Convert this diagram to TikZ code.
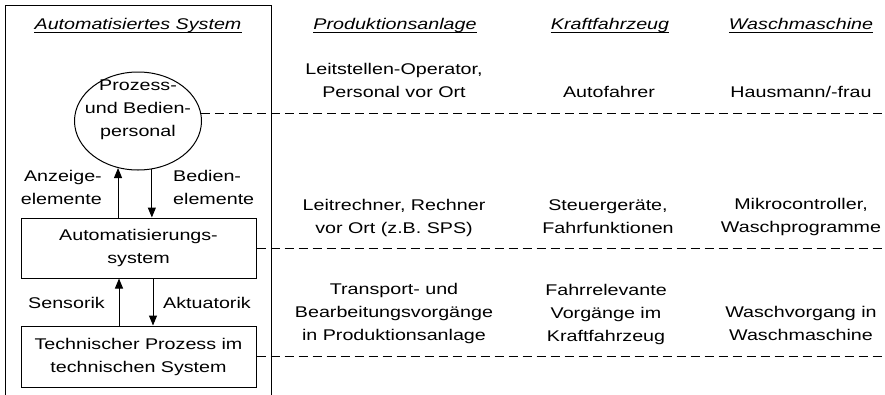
\documentclass[tikz,border=0pt]{standalone}
\usepackage{fontspec}
\setmainfont{Liberation Sans}[FakeStretch=1.27]
\usetikzlibrary{arrows.meta,shapes.geometric}

\begin{document}
\begin{tikzpicture}[x=1pt,y=-1pt,
  txt/.style={inner sep=0pt, font=\fontsize{15.5}{23}\selectfont, align=center},
  hdr/.style={txt, font=\fontsize{15.5}{23}\selectfont\itshape},
  box/.style={draw, line width=1pt, minimum width=235pt, minimum height=60pt,
    inner sep=0pt, align=center, font=\fontsize{15.5}{23}\selectfont},
  link/.style={line width=0.9pt, dash pattern=on 9pt off 5pt},
  arr/.style={line width=1pt, -{Triangle[length=10pt,width=8pt]}}
]
\useasboundingbox (0,0) rectangle (885,394);
\fill[white] (0,0) rectangle (885,394);

% frame of the automated system (open towards the bottom)
\draw[line width=1pt] (5,400) -- (5,5) -- (271,5) -- (271,400);

% column headings
\node[hdr, anchor=base] (hsys)  at (138,29) {Automatisiertes System};
\node[hdr, anchor=base] (hprod) at (395,29) {Produktionsanlage};
\node[hdr, anchor=base] (hkfz)  at (610,29) {Kraftfahrzeug};
\node[hdr, anchor=base] (hwm)   at (801,29) {Waschmaschine};
\foreach \h in {hsys,hprod,hkfz,hwm}
  \draw[line width=1pt] ([yshift=-3.5pt]\h.base west) -- ([yshift=-3.5pt]\h.base east);

% left part: personnel, automation system, technical process
\node[draw, ellipse, line width=1pt, minimum width=127pt, minimum height=98pt, inner sep=0pt] (pers) at (138,121) {};
\node[txt, anchor=base] (perstext) at (138,136) {Prozess-\\und Bedien-\\personal};
\node[box] (auto) at (138.5,248) {Automatisierungs-\\system};
\node[box, minimum height=61pt] (tech) at (138.5,356.5) {Technischer Prozess im\\technischen System};

\draw[arr] (auto.north -| pers.247.3) -- (pers.247.3);
\draw[arr] (pers.286.9) -- (pers.286.9 |- auto.north);
\draw[arr] ([xshift=-19.5pt]tech.north) -- ([xshift=-19.5pt]auto.south);
\draw[arr] ([xshift=14.5pt]auto.south) -- ([xshift=14.5pt]tech.north);

\node[txt, align=right, anchor=base east] (lanz) at (102,204) {Anzeige-\\elemente};
\node[txt, align=left, anchor=base west] (lbed) at (173,204) {Bedien-\\elemente};
\node[txt, anchor=base east] (lsens) at (105,308) {Sensorik};
\node[txt, anchor=base west] (lakt) at (163,308) {Aktuatorik};

% examples
\node[txt, anchor=base] (r1a) at (394,97) {Leitstellen-Operator,\\Personal vor Ort};
\node[txt, anchor=base] (r1b) at (609,97) {Autofahrer};
\node[txt, anchor=base] (r1c) at (801,97) {Hausmann/-frau};
\node[txt, anchor=base] (r2a) at (394,233) {Leitrechner, Rechner\\vor Ort (z.B. SPS)};
\node[txt, anchor=base] (r2b) at (608,233) {Steuergeräte,\\Fahrfunktionen};
\node[txt, anchor=base] (r2c) at (801,232) {Mikrocontroller,\\Waschprogramme};
\node[txt, anchor=base] (r3a) at (394,340) {Transport- und\\Bearbeitungsvorgänge\\in Produktionsanlage};
\node[txt, anchor=base] (r3b) at (606,341) {Fahrrelevante\\Vorgänge im\\Kraftfahrzeug};
\node[txt, anchor=base] (r3c) at (801,340) {Waschvorgang in\\Waschmaschine};

% dashed level lines
\coordinate (edge) at (885,0);
\draw[link] (pers.7.3) -- (pers.7.3 -| edge);
\draw[link] (auto.east) -- (auto.east -| edge);
\draw[link] (tech.east) -- (tech.east -| edge);
\end{tikzpicture}
\end{document}
